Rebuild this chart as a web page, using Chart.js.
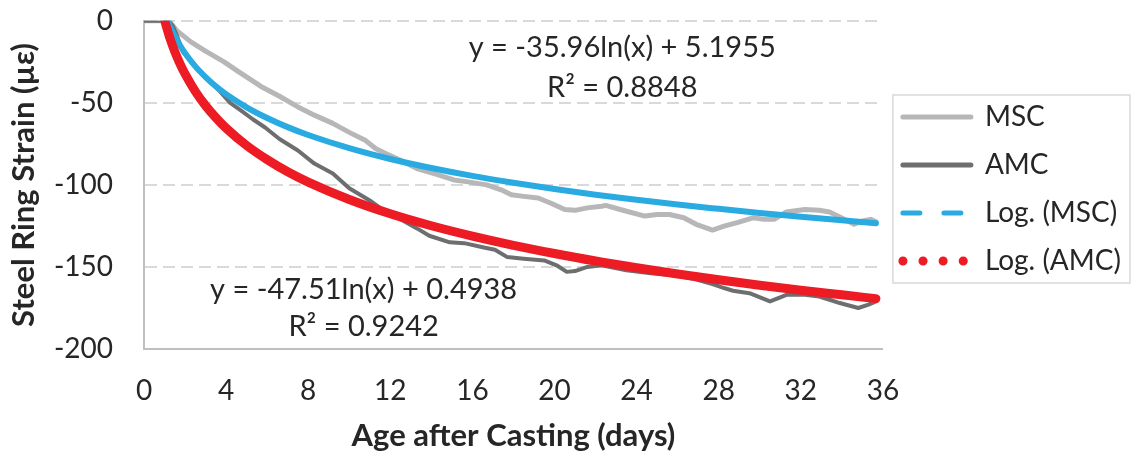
<!DOCTYPE html>
<html>
<head>
<meta charset="utf-8">
<script src="https://cdn.jsdelivr.net/npm/chart.js@4.4.1/dist/chart.umd.min.js"></script>
<style>
  html, body { margin: 0; padding: 0; background: #fff; }
  #wrap { width: 1131px; height: 452px; }
</style>
</head>
<body>
<div id="wrap"><canvas id="strain" width="1131" height="452"></canvas></div>
<script>
const mscDays = [0, 1.2, 1.4, 1.6, 2.3, 3.0, 3.9, 4.6, 5.7, 6.6, 7.5, 8.3, 9.2, 10.0, 10.8, 11.3, 11.8, 12.5, 13.3, 14.1, 15.1, 15.7, 16.7, 17.4, 17.9, 18.5, 19.2, 19.8, 20.5, 21.0, 21.6, 22.3, 22.5, 23.2, 24.4, 25.0, 25.6, 26.3, 26.9, 27.7, 28.3, 28.9, 29.7, 30.2, 30.7, 31.3, 32.2, 32.9, 33.4, 33.9, 34.6, 35.0, 35.4, 35.66];
const mscStrain = [0, 0, -3, -6, -13, -18.5, -25, -31, -40, -46, -52.5, -57.5, -62.5, -68, -73, -78, -81, -85, -90, -93, -97, -98, -100, -103, -106, -107, -108, -111, -115, -115.5, -114, -113, -112.5, -115, -119, -118, -118, -120, -124, -127.5, -125, -123, -120, -121, -121, -116.5, -115, -115.5, -116.5, -119.5, -124, -122, -121, -122.5];

const amcDays = [0, 1.2, 1.4, 1.6, 1.9, 2.5, 3.1, 3.7, 4.2, 4.7, 5.3, 5.9, 6.6, 7.5, 8.3, 9.2, 10.0, 11.0, 11.5, 12.5, 13.3, 13.9, 14.9, 15.6, 16.5, 17.1, 17.7, 18.5, 19.5, 20.1, 20.6, 21.0, 21.6, 22.3, 23.5, 24.8, 25.8, 26.7, 27.7, 28.3, 28.7, 29.5, 30.5, 31.0, 31.3, 32.2, 32.9, 33.4, 33.9, 34.8, 35.3, 35.66];
const amcStrain = [0, 0, -3, -9, -19, -28, -36, -43, -50, -54.5, -60, -65, -72, -79, -87, -93, -102, -109.5, -114, -121, -126.5, -131, -135, -135.5, -138, -139.5, -144, -145, -146, -149, -153, -152.5, -150, -149, -152, -154, -155, -157, -160.5, -163, -164.5, -166, -171, -168.5, -167, -167, -168, -170, -172, -175, -173, -171];

// Logarithmic trend lines as drawn
const logMscDays = [1.16, 1.25, 1.5, 1.75, 2, 2.5, 3, 3.5, 4, 5, 6, 7, 8, 10, 12, 14, 16, 18, 20, 22, 24, 26, 28, 30, 32, 34, 35.66];
const logMscStrain = [-0.1, -2.8, -9.4, -14.9, -19.7, -27.8, -34.3, -39.9, -44.7, -52.7, -59.2, -64.8, -69.6, -77.6, -84.2, -89.7, -94.5, -98.7, -102.5, -106.0, -109.1, -112.0, -114.6, -117.1, -119.4, -121.6, -123.3];

const logAmcDays = [1.01, 1.25, 1.5, 1.75, 2, 2.5, 3, 3.5, 4, 5, 6, 7, 8, 10, 12, 14, 16, 18, 20, 22, 24, 26, 28, 30, 32, 34, 35.66];
const logAmcStrain = [0, -10.1, -18.8, -26.1, -32.4, -43.0, -51.7, -59.0, -65.4, -76.0, -84.6, -92.0, -98.3, -108.9, -117.6, -124.9, -131.2, -136.8, -141.8, -146.4, -150.5, -154.3, -157.8, -161.1, -164.2, -167.0, -169.3];

const dayTicks = [0, 4, 8, 12, 16, 20, 24, 28, 32, 36];
const strainTicks = [0, -50, -100, -150, -200];

const seriesNames = ['MSC', 'AMC', 'Log. (MSC)', 'Log. (AMC)'];
const mscFit = ['y = -35.96ln(x) + 5.1955', 'R\u00B2 = 0.8848'];
const amcFit = ['y = -47.51ln(x) + 0.4938', 'R\u00B2 = 0.9242'];

const FONT = 'Lato, "Open Sans", sans-serif';
const TEXT = '#262626';
const HIDE = 'rgba(0,0,0,0)';

const pts = (xs, ys) => xs.map((x, i) => ({ x, y: ys[i] }));

// legend look (dash patterns differ from the plotted strokes, like Excel)
const legendLook = [
  { width: 5, dash: [] },
  { width: 5, dash: [] },
  { width: 5, dash: [17, 24] },
  { width: 9, dash: [0.1, 20] },
];

const fitLabels = {
  id: 'fitLabels',
  afterDatasetsDraw(chart) {
    const { ctx, scales: { x, y } } = chart;
    ctx.save();
    ctx.font = `29px ${FONT}`;
    ctx.fillStyle = TEXT;
    ctx.textAlign = 'center';
    ctx.textBaseline = 'middle';
    ctx.fillText(mscFit[0], x.getPixelForValue(23.3), y.getPixelForValue(-16.5));
    ctx.fillText(mscFit[1], x.getPixelForValue(23.3), y.getPixelForValue(-41));
    ctx.fillText(amcFit[0], x.getPixelForValue(10.7), y.getPixelForValue(-164));
    ctx.fillText(amcFit[1], x.getPixelForValue(10.7), y.getPixelForValue(-186.5));
    ctx.restore();
  },
};

const legendFrame = {
  id: 'legendFrame',
  afterDraw(chart) {
    const hb = chart.legend && chart.legend.legendHitBoxes;
    if (!hb || !hb.length) return;
    const last = hb[hb.length - 1];
    const w = Math.max(...hb.map((b) => b.width));
    const { ctx } = chart;
    ctx.save();
    ctx.strokeStyle = '#d9d9d9';
    ctx.lineWidth = 1.5;
    ctx.strokeRect(hb[0].left - 10, hb[0].top - 8, w + 19, last.top + last.height - hb[0].top + 16);
    ctx.restore();
  },
};

new Chart(document.getElementById('strain'), {
  type: 'line',
  data: {
    datasets: [
      { label: seriesNames[0], data: pts(mscDays, mscStrain), borderColor: '#b7b7b9', backgroundColor: '#b7b7b9', borderWidth: 5, order: 4 },
      { label: seriesNames[1], data: pts(amcDays, amcStrain), borderColor: '#6d6e70', backgroundColor: '#6d6e70', borderWidth: 4, order: 3 },
      { label: seriesNames[2], data: pts(logMscDays, logMscStrain), borderColor: '#29abe2', backgroundColor: '#29abe2', borderWidth: 6, order: 2, cubicInterpolationMode: 'monotone' },
      { label: seriesNames[3], data: pts(logAmcDays, logAmcStrain), borderColor: '#ed1c24', backgroundColor: '#ed1c24', borderWidth: 9, order: 1, cubicInterpolationMode: 'monotone' },
    ],
  },
  options: {
    responsive: false,
    animation: false,
    devicePixelRatio: 1,
    elements: {
      point: { radius: 0 },
      line: { borderCapStyle: 'round', borderJoinStyle: 'round', tension: 0 },
    },
    layout: { padding: { top: 20, right: 0, bottom: 0, left: 0 } },
    plugins: {
      tooltip: { enabled: false },
      legend: {
        position: 'right',
        align: 'center',
        fullSize: false,
        title: { display: true, text: ' ', font: { size: 1 }, padding: { top: 0, bottom: 7 } },
        labels: {
          usePointStyle: true,
          pointStyle: 'line',
          pointStyleWidth: 68,
          padding: 20,
          color: TEXT,
          font: { family: FONT, size: 28 },
          sort: (a, b) => a.datasetIndex - b.datasetIndex,
          generateLabels(chart) {
            const items = Chart.defaults.plugins.legend.labels.generateLabels(chart);
            items.forEach((it) => {
              const look = legendLook[it.datasetIndex];
              it.lineWidth = look.width;
              it.lineDash = look.dash;
              it.lineCap = 'round';
              it.fillStyle = HIDE;
              it.pointStyle = 'line';
            });
            return items;
          },
        },
      },
    },
    scales: {
      x: {
        type: 'linear',
        min: 0,
        max: 36,
        afterBuildTicks: (s) => { s.ticks = dayTicks.map((v) => ({ value: v })); },
        afterFit: (s) => { s.height = 103; },
        grid: { display: true, drawOnChartArea: false, color: HIDE, tickColor: HIDE, drawTicks: true, tickLength: 21 },
        border: { display: true, color: '#bfbfbf', width: 2 },
        ticks: { color: TEXT, font: { family: FONT, size: 28 }, padding: 4, maxRotation: 0 },
        title: {
          display: true,
          text: 'Age after Casting (days)',
          color: TEXT,
          font: { family: FONT, size: 31, weight: 'bold' },
          padding: { top: 8, bottom: -3 },
        },
      },
      y: {
        type: 'linear',
        min: -200,
        max: 0,
        afterBuildTicks: (s) => { s.ticks = strainTicks.map((v) => ({ value: v })); },
        afterFit: (s) => { s.width = 144; },
        grid: { color: '#d9d9d9', lineWidth: 2, drawTicks: true, tickLength: 27, tickColor: HIDE },
        border: { display: true, color: '#bfbfbf', width: 2, dash: [12, 6] },
        ticks: { color: TEXT, font: { family: FONT, size: 28 }, padding: 4 },
        title: {
          display: true,
          text: 'Steel Ring Strain (\u00B5\u03B5)',
          color: TEXT,
          font: { family: FONT, size: 31, weight: 'bold' },
          padding: { top: 5, bottom: 10 },
        },
      },
    },
  },
  plugins: [fitLabels, legendFrame],
});
</script>
</body>
</html>
